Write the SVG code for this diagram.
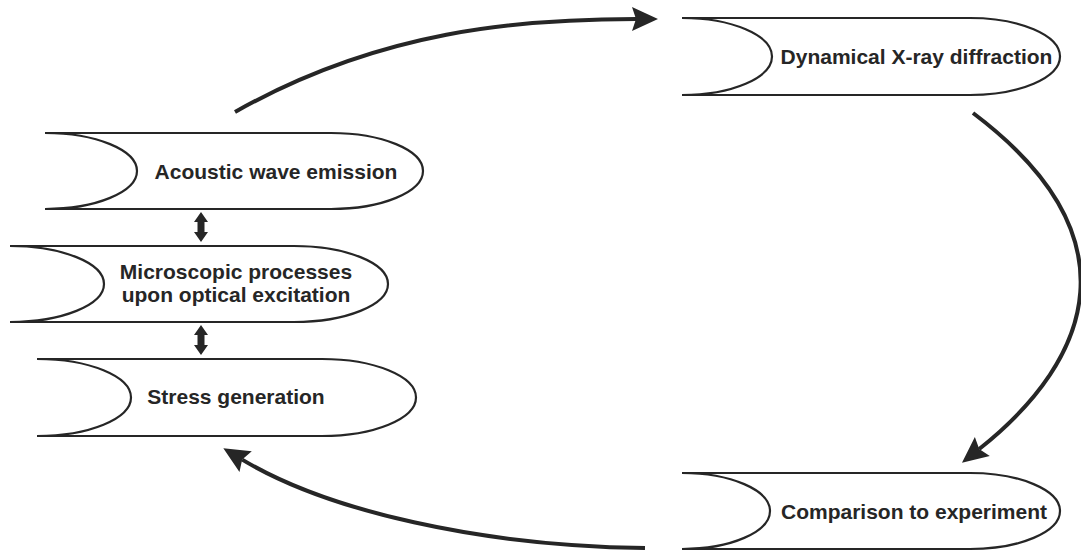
<svg xmlns="http://www.w3.org/2000/svg" width="1081" height="552" viewBox="0 0 1081 552">
<style>
.node{fill:#fff;stroke:#262626;stroke-width:2.2}
.inner{fill:none;stroke:#262626;stroke-width:2.2}
.lbl{font-family:"Liberation Sans",Arial,sans-serif;font-weight:bold;font-size:21px;fill:#262626}
.conn{fill:none;stroke:#262626;stroke-width:4}
.dbl{fill:#262626}
</style>
<defs>
<marker id="ah" markerUnits="userSpaceOnUse" markerWidth="30" markerHeight="26" refX="4" refY="12" orient="auto" overflow="visible">
<path d="M0,0 L26,12 L0,24 L4,12 Z" fill="#262626"/>
</marker>
</defs>
<rect width="1081" height="552" fill="#fff"/>
<g id="n1">
<path class="node" d="M45,133 H331 A92,38 0 0 1 331,209 H45"/>
<path class="inner" d="M45,133 A92,38 0 0 1 45,209"/>
<text class="lbl" x="276" y="178.5" text-anchor="middle">Acoustic wave emission</text>
</g>
<g id="n2">
<path class="node" d="M10,246 H294 A94,38 0 0 1 294,322 H10"/>
<path class="inner" d="M10,246 A94,38 0 0 1 10,322"/>
<text class="lbl" x="236" y="279" text-anchor="middle">Microscopic processes</text>
<text class="lbl" x="236" y="302" text-anchor="middle">upon optical excitation</text>
</g>
<g id="n3">
<path class="node" d="M37,359 H322 A94,38.5 0 0 1 322,436 H37"/>
<path class="inner" d="M37,359 A94,38.5 0 0 1 37,436"/>
<text class="lbl" x="236" y="404" text-anchor="middle">Stress generation</text>
</g>
<g id="n4">
<path class="node" d="M682,18 H970 A90,38.5 0 0 1 970,95 H682"/>
<path class="inner" d="M682,18 A90,38.5 0 0 1 682,95"/>
<text class="lbl" x="916.5" y="64" text-anchor="middle">Dynamical X-ray diffraction</text>
</g>
<g id="n5">
<path class="node" d="M682,473 H970 A90,38 0 0 1 970,549 H682"/>
<path class="inner" d="M682,473 A88,38 0 0 1 682,549"/>
<text class="lbl" x="914" y="518.5" text-anchor="middle">Comparison to experiment</text>
</g>
<g id="connectors">
<path class="conn" d="M235,112 C380,30 520,19 636,19" marker-end="url(#ah)"/>
<path class="conn" d="M973,113 C1135,235 1095,357 979.2,449" marker-end="url(#ah)"/>
<path class="conn" d="M645,548 C480,546 328,511 242.2,459.6" marker-end="url(#ah)"/>
<path class="dbl" d="M201,212 L208,222 L204.5,222 L204.5,232 L208,232 L201,242 L194,232 L197.5,232 L197.5,222 L194,222 Z"/>
<path class="dbl" d="M201,325 L208,335 L204.5,335 L204.5,345 L208,345 L201,355 L194,345 L197.5,345 L197.5,335 L194,335 Z"/>
</g>
</svg>
